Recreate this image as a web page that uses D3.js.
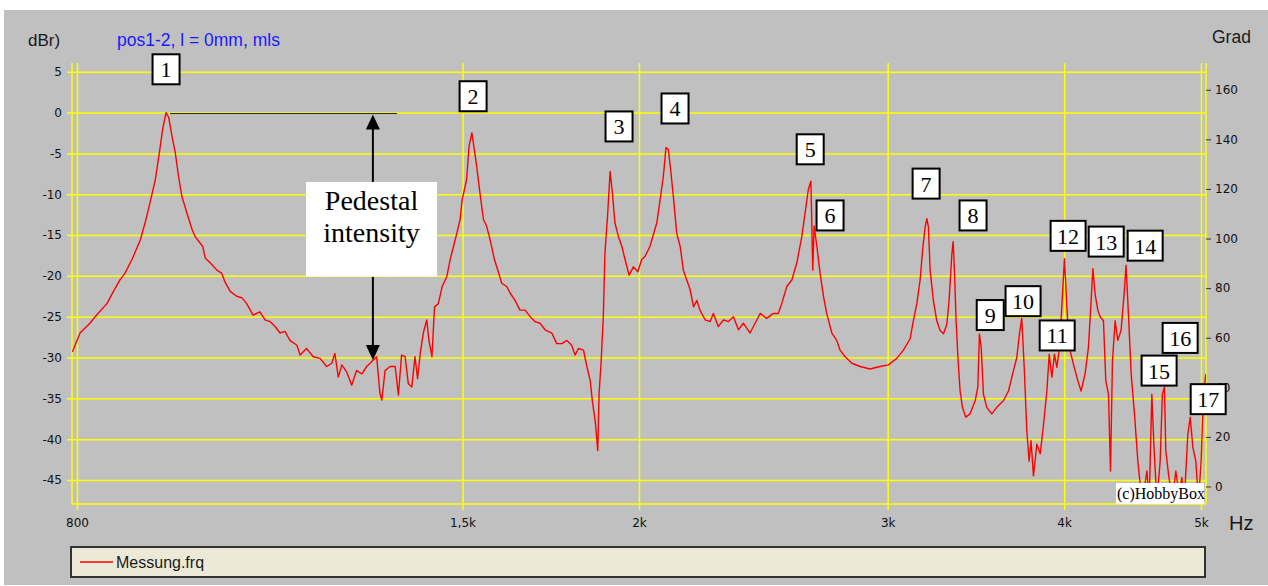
<!DOCTYPE html>
<html>
<head>
<meta charset="utf-8">
<script src="https://cdn.jsdelivr.net/npm/d3@7"></script>
<style>
  html, body { margin: 0; padding: 0; background: #fff; }
  svg { display: block; }
</style>
</head>
<body>
<div id="chart"></div>
<script>
const freqHz = [
  794, 804, 817, 826, 840, 849, 858, 865, 875, 887, 894, 901, 909, 915, 920, 925, 929, 934, 939, 944,
  949, 957, 965, 970, 978, 982, 986, 994, 1005, 1013, 1018, 1027, 1038, 1047, 1055, 1066, 1078, 1087, 1096, 1105,
  1114, 1123, 1132, 1145, 1151, 1163, 1176, 1189, 1202, 1212, 1218, 1225, 1232, 1242, 1252, 1262,
  1273, 1283, 1297, 1304, 1311, 1315, 1322, 1333, 1344, 1351, 1358, 1366, 1373, 1381, 1388, 1394, 1400, 1407,
  1415, 1420, 1427, 1433, 1442, 1451, 1462, 1470, 1478, 1486, 1494, 1499, 1510, 1516, 1523, 1529, 1535, 1543,
  1552, 1560, 1569, 1580, 1590, 1599, 1612, 1621, 1634, 1647, 1661, 1675, 1688, 1702, 1716, 1735, 1749, 1764,
  1778, 1792, 1802, 1812, 1827, 1837, 1847, 1854, 1862, 1870, 1874, 1880, 1887, 1892, 1900, 1908, 1915, 1923,
  1934, 1945, 1955, 1968, 1982, 1996, 2009, 2020,
  2036, 2047, 2059, 2070, 2081, 2090, 2098, 2106, 2115, 2127, 2139, 2150, 2162, 2174, 2186, 2198, 2209, 2228,
  2246, 2258, 2276, 2295, 2314, 2333, 2352, 2371, 2397, 2417, 2437, 2463, 2490, 2510, 2524, 2545, 2566, 2587,
  2608, 2622, 2636, 2647, 2655, 2661, 2673, 2687, 2702, 2716, 2739, 2761, 2776, 2799, 2830, 2868, 2915, 2963,
  3004, 3045, 3078, 3112, 3129, 3146, 3163, 3176,
  3189, 3198, 3206, 3215, 3232, 3250, 3268, 3286, 3304, 3316, 3331, 3338, 3345, 3354, 3364, 3376, 3389, 3407,
  3431, 3460, 3475, 3484, 3494, 3507, 3526, 3555, 3584, 3623, 3653, 3683, 3703, 3719, 3733, 3748, 3764, 3778,
  3790, 3805, 3826, 3847, 3868, 3889, 3904, 3921, 3937, 3953, 3970, 3985, 4002, 4018, 4033, 4061, 4090, 4112,
  4139, 4162, 4180, 4192, 4207, 4226, 4242, 4265, 4281, 4300, 4314, 4328, 4347, 4366, 4389, 4411, 4425, 4442,
  4462, 4486, 4511, 4528, 4552, 4578, 4595, 4615, 4630, 4653, 4678, 4695, 4711, 4721, 4747, 4773, 4799, 4825,
  4846, 4867, 4894, 4913, 4934, 4958, 4980, 5001, 5020, 5040
];
const levelDb = [
  -29.3, -27.0, -25.8, -24.8, -23.4, -21.9, -20.5, -19.7, -18.0, -15.6, -13.5, -11.1, -8.2, -4.9, -2.0, 0, -0.6, -2.9, -4.9, -7.8,
  -10.2, -12.3, -14.3, -15.2, -16.0, -16.4, -17.8, -18.4, -19.3, -19.7, -20.7, -21.9, -22.5, -22.7, -23.4, -24.8, -24.4, -25.4, -25.6, -26.2,
  -27.0, -26.8, -27.9, -28.5, -29.7, -28.9, -29.9, -30.1, -31.1, -30.7, -29.5, -32.4, -30.9, -31.8, -33.4, -31.6,
  -32.0, -31.1, -30.3, -29.9, -34.4, -35.2, -31.6, -31.1, -31.1, -34.6, -29.7, -29.9, -33.2, -33.6, -29.9, -32.6, -29.5, -27.0,
  -25.4, -27.9, -29.9, -23.8, -23.4, -21.3, -20.1, -18.0, -16.4, -14.8, -13.1, -10.7, -8.2, -4.1, -2.5, -4.5, -6.6, -9.8,
  -13.1, -13.9, -15.6, -18.0, -19.5, -20.9, -21.3, -22.1, -23.0, -24.2, -24.2, -25.0, -25.6, -25.8, -26.6, -27.0, -28.3, -28.3,
  -27.9, -28.5, -29.7, -28.9, -29.1, -31.1, -32.8, -35.5, -37.7, -41.4, -34.4, -30.7, -25.0, -17.2, -12.7, -7.2, -9.8, -13.5,
  -15.2, -16.4, -18.0, -19.9, -18.9, -19.5, -18.0, -17.6,
  -16.4, -15.0, -13.5, -10.7, -7.8, -4.3, -4.5, -7.0, -10.2, -14.8, -16.4, -19.3, -20.5, -21.7, -23.8, -23.0, -24.2, -25.4,
  -25.6, -24.6, -26.2, -25.4, -25.6, -25.0, -26.6, -25.8, -27.0, -25.8, -24.6, -25.2, -24.6, -24.6, -23.4, -21.3, -20.5, -18.4,
  -15.2, -12.3, -9.4, -8.4, -19.3, -13.9, -16.4, -19.7, -22.5, -24.6, -27.0, -27.9, -29.1, -29.9, -30.7, -31.1, -31.4, -31.1,
  -30.9, -30.1, -29.1, -27.7, -25.4, -23.4, -20.5, -16.8,
  -14.0, -13.0, -14.0, -19.3, -23.0, -25.5, -26.7, -27.1, -25.9, -23.0, -17.3, -15.8, -19.3, -25.5, -30.0, -34.1, -36.1, -37.3,
  -36.9, -35.3, -33.6, -27.1, -28.7, -34.5, -36.1, -36.9, -36.1, -35.3, -34.1, -31.6, -30.0, -27.1, -25.2, -31.2, -39.0, -42.7,
  -40.2, -44.5, -40.6, -41.8, -38.2, -34.1, -29.6, -32.4, -29.6, -31.2, -28.7, -23.8, -17.9, -23.8, -28.7, -30.8, -32.8, -34.1,
  -32.0, -28.7, -23.0, -19.1, -22.2, -24.2, -25.0, -25.5, -32.8, -34.5, -43.9, -30.4, -25.5, -27.9, -26.7, -22.2, -18.7, -24.6,
  -32.0, -36.9, -42.7, -45.5, -46.8, -43.9, -47.6, -34.5, -40.6, -47.6, -42.7, -34.5, -33.6, -41.4, -44.9, -47.2, -43.9, -46.8,
  -44.7, -47.2, -39.4, -37.3, -41.0, -42.7, -47.6, -42.7, -34.5, -32.0
];

// axes
const xTicks = [800, 1500, 2000, 3000, 4000, 5000];
const xTickLabels = ["800", "1,5k", "2k", "3k", "4k", "5k"];
const dbTicks = [-45, -40, -35, -30, -25, -20, -15, -10, -5, 0, 5];
const gradTicks = [0, 20, 40, 60, 80, 100, 120, 140, 160];

// numbered peak markers (centre, in Hz / dB)
const markerIds = [1, 2, 3, 4, 5, 6, 7, 8, 9, 10, 11, 12, 13, 14, 15, 16, 17];
const markerHz = [925, 1526, 1936, 2121, 2644, 2731, 3194, 3448, 3546, 3741, 3955, 4026, 4284, 4565, 4670, 4833, 5059];
const markerDb = [5.3, 2.0, -1.7, 0.5, -4.5, -12.6, -8.7, -12.6, -24.8, -23.1, -27.3, -15.1, -15.8, -16.3, -31.6, -27.6, -35.1];

// pedestal annotation
const pedestalHz = 1296;
const pedestalTopDb = 0;
const pedestalFloorDb = -30.3;
const refLineHz = [925, 1348];
const pedestalBoxHz = [1162, 1439];
const pedestalBoxDb = [-8.5, -20.1];

const W = 1268, H = 586;
const P = { left: 72, right: 1206, top: 63, bottom: 504 };
const YEL = "#ffff00";
const SANS = "'DejaVu Sans', sans-serif";
const ARIAL = "'Liberation Sans', Arial, sans-serif";
const SERIF = "'Liberation Serif', 'Times New Roman', serif";

const x = d3.scaleLog().domain([793.5, 5041]).range([P.left, P.right]);
const y = d3.scaleLinear().domain([-47.94, 6.07]).range([P.bottom, P.top]);
const yR = d3.scaleLinear().domain([-7.06, 170.8]).range([P.bottom, P.top]);

const svg = d3.select("#chart").append("svg")
  .attr("width", W).attr("height", H);

svg.append("rect")
  .attr("x", 4).attr("y", 10).attr("width", W - 4).attr("height", 575)
  .attr("fill", "#c0c0c0");

// horizontal grid + dB labels
const gY = svg.append("g")
  .attr("transform", `translate(${P.right},0)`)
  .call(d3.axisLeft(y).tickValues(dbTicks).tickSize(P.right - 67).tickPadding(5).tickFormat(d => String(d)));
gY.select(".domain").remove();
gY.selectAll("line").attr("stroke", YEL).attr("stroke-width", 1.5);
gY.selectAll("text").attr("font-family", SANS).attr("font-size", 12).attr("fill", "#111");

// vertical grid + Hz labels
const gX = svg.append("g")
  .attr("transform", "translate(0,510)")
  .call(d3.axisBottom(x).tickValues(xTicks).tickSize(-(510 - P.top)).tickPadding(8)
    .tickFormat((d, i) => xTickLabels[i]));
gX.select(".domain").remove();
gX.selectAll("line").attr("stroke", YEL).attr("stroke-width", 1.5);
gX.selectAll("text").attr("font-family", SANS).attr("font-size", 12).attr("fill", "#111");

// frame
const frame = svg.append("g").attr("stroke", YEL).attr("stroke-width", 1.5);
frame.append("line").attr("x1", P.left).attr("x2", P.left).attr("y1", P.top).attr("y2", P.bottom);
frame.append("line").attr("x1", P.right).attr("x2", P.right).attr("y1", P.top).attr("y2", P.bottom);
frame.append("line").attr("x1", P.left).attr("x2", P.right).attr("y1", P.bottom).attr("y2", P.bottom);

// right axis (Grad)
const gR = svg.append("g")
  .attr("transform", `translate(${P.right},0)`)
  .call(d3.axisRight(yR).tickValues(gradTicks).tickSize(5).tickPadding(4));
gR.select(".domain").remove();
gR.selectAll("line").attr("stroke", "#333").attr("stroke-width", 1);
gR.selectAll("text").attr("font-family", SANS).attr("font-size", 12).attr("fill", "#111");

// curve
svg.append("clipPath").attr("id", "plotclip")
  .append("rect").attr("x", P.left).attr("y", P.top)
  .attr("width", P.right - P.left).attr("height", P.bottom - P.top);

const pts = freqHz.map((f, i) => [f, levelDb[i]]);
svg.append("path")
  .datum(pts)
  .attr("clip-path", "url(#plotclip)")
  .attr("fill", "none")
  .attr("stroke", "#ff0000")
  .attr("stroke-width", 1.4)
  .attr("stroke-linejoin", "round")
  .attr("d", d3.line().x(d => x(d[0])).y(d => y(d[1])));

// pedestal reference line, box and arrows
svg.append("line")
  .attr("x1", x(refLineHz[0]) + 4).attr("x2", x(refLineHz[1]))
  .attr("y1", y(pedestalTopDb) + 1).attr("y2", y(pedestalTopDb) + 1)
  .attr("stroke", "#222").attr("stroke-width", 1);

const ax = x(pedestalHz);
const yTop = y(pedestalTopDb) + 2, yBot = y(pedestalFloorDb);
const boxTop = y(pedestalBoxDb[0]), boxBot = y(pedestalBoxDb[1]);
svg.append("line").attr("x1", ax).attr("x2", ax).attr("y1", yTop + 12).attr("y2", boxTop)
  .attr("stroke", "#000").attr("stroke-width", 2);
svg.append("line").attr("x1", ax).attr("x2", ax).attr("y1", boxBot).attr("y2", yBot - 12)
  .attr("stroke", "#000").attr("stroke-width", 2);
svg.append("path").attr("d", `M${ax},${yTop}L${ax - 7},${yTop + 15}L${ax + 7},${yTop + 15}Z`).attr("fill", "#000");
svg.append("path").attr("d", `M${ax},${yBot}L${ax - 7},${yBot - 15}L${ax + 7},${yBot - 15}Z`).attr("fill", "#000");

const bx0 = x(pedestalBoxHz[0]), bx1 = x(pedestalBoxHz[1]);
svg.append("rect").attr("x", bx0).attr("y", boxTop)
  .attr("width", bx1 - bx0).attr("height", boxBot - boxTop).attr("fill", "#fff");
const pt = svg.append("text").attr("font-family", SERIF).attr("font-size", 28)
  .attr("text-anchor", "middle").attr("fill", "#000");
pt.append("tspan").attr("x", (bx0 + bx1) / 2).attr("y", boxTop + 28).text("Pedestal");
pt.append("tspan").attr("x", (bx0 + bx1) / 2).attr("y", boxTop + 60).text("intensity");

// numbered markers
const mk = svg.append("g").selectAll("g").data(markerIds).join("g")
  .attr("transform", (d, i) => `translate(${x(markerHz[i])},${y(markerDb[i])})`);
mk.append("rect")
  .attr("x", d => d > 9 ? -17.5 : -13.5).attr("y", -15)
  .attr("width", d => d > 9 ? 35 : 27).attr("height", 30)
  .attr("fill", "#fff").attr("stroke", "#000").attr("stroke-width", 2);
mk.append("text")
  .attr("text-anchor", "middle").attr("y", 8)
  .attr("font-family", SERIF).attr("font-size", 22).attr("fill", "#000")
  .text(d => d);

// watermark
svg.append("rect").attr("x", 1116).attr("y", 483).attr("width", 88).attr("height", 21).attr("fill", "#fff");
svg.append("text").attr("x", 1117).attr("y", 499)
  .attr("font-family", SERIF).attr("font-size", 16).attr("fill", "#000").text("(c)HobbyBox");

// titles
svg.append("text").attr("x", 28).attr("y", 46)
  .attr("font-family", ARIAL).attr("font-size", 17).attr("fill", "#1a1a1a").text("dBr)");
svg.append("text").attr("x", 117).attr("y", 46)
  .attr("font-family", ARIAL).attr("font-size", 17.5).attr("fill", "#1a1aff").text("pos1-2, l = 0mm, mls");
svg.append("text").attr("x", 1212).attr("y", 43)
  .attr("font-family", ARIAL).attr("font-size", 17.5).attr("fill", "#1a1a1a").text("Grad");
svg.append("text").attr("x", 1229).attr("y", 530)
  .attr("font-family", ARIAL).attr("font-size", 20).attr("fill", "#1a1a1a").text("Hz");

// legend
const lg = svg.append("g");
lg.append("rect").attr("x", 71).attr("y", 547).attr("width", 1134).attr("height", 30)
  .attr("fill", "#ece9d8").attr("stroke", "#333").attr("stroke-width", 2);
lg.append("line").attr("x1", 80).attr("x2", 113).attr("y1", 562).attr("y2", 562)
  .attr("stroke", "#ff0000").attr("stroke-width", 1.5);
lg.append("text").attr("x", 116).attr("y", 568)
  .attr("font-family", ARIAL).attr("font-size", 16).attr("fill", "#1a1a1a").text("Messung.frq");
</script>
</body>
</html>
